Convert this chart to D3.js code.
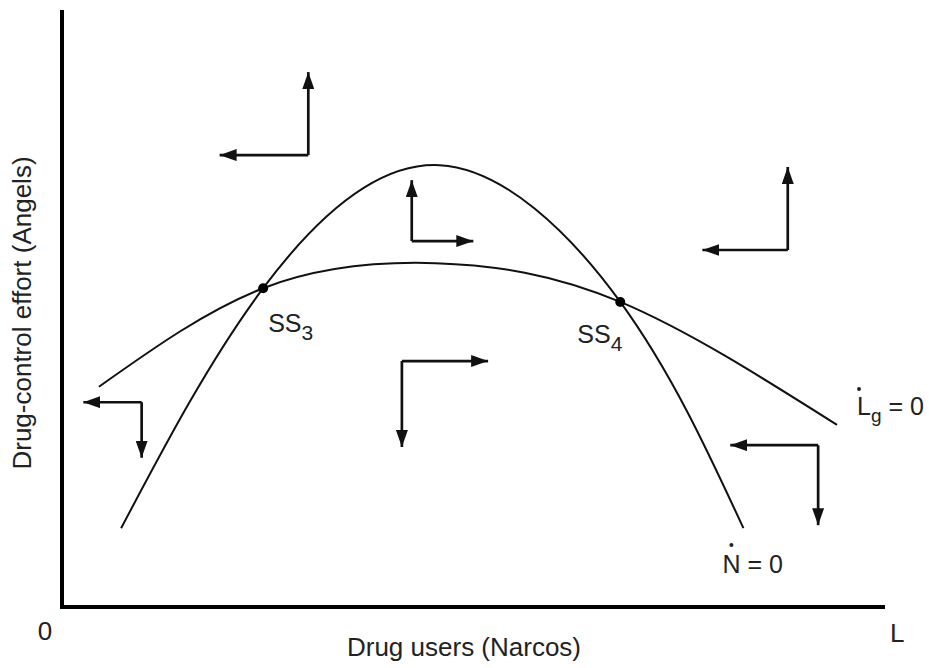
<!DOCTYPE html>
<html>
<head>
<meta charset="utf-8">
<script src="https://cdn.jsdelivr.net/npm/d3@7"></script>
<style>
  body { margin: 0; background: #fff; }
  text { font-family: 'Liberation Sans', Arial, sans-serif; fill: #222; }
</style>
</head>
<body>
<div id="chart"></div>
<script>
// values, in axis units (0..100 both ways)
var nDotCurve = [[7.2, 13.2], [24.5, 53.4], [46.0, 74.0], [68.0, 51.1], [83.0, 13.2]]
var lgDotCurve = [[4.5, 36.9], [24.5, 53.4], [45.5, 57.6], [68.0, 51.1], [94.4, 30.5]]
var steadyStates = [{name: 'SS', sub: '3', x: 24.5, y: 53.4}, {name: 'SS', sub: '4', x: 68.0, y: 51.1}]
// phase arrows: corner, tip of the horizontal arm, tip of the vertical arm
var arrowCorners = [[30.0, 75.7], [42.6, 61.3], [88.4, 59.8], [9.7, 34.3], [41.4, 41.2], [92.1, 27.1]]
var arrowHorizTips = [19.2, 50.1, 78.0, 2.6, 51.9, 81.4]
var arrowVertTips = [89.6, 71.5, 73.7, 25.0, 26.8, 13.7]
var axisTitles = ['Drug users (Narcos)', 'Drug-control effort (Angels)']
var axisEnds = ['0', 'L']

var width = 929,
	height = 668

var x = d3.scaleLinear().domain([0, 100]).range([62, 883]),
	y = d3.scaleLinear().domain([0, 100]).range([607, 10])

var svg = d3.select('#chart').append('svg')
	.attr('width', width)
	.attr('height', height)

var defs = svg.append('defs')
defs.append('marker')
	.attr('id', 'head')
	.attr('viewBox', '0 0 17 12')
	.attr('refX', 17)
	.attr('refY', 6)
	.attr('markerWidth', 17)
	.attr('markerHeight', 12)
	.attr('markerUnits', 'userSpaceOnUse')
	.attr('orient', 'auto')
	.append('path')
	.attr('d', 'M0,0 L17,6 L0,12 Z')
	.attr('fill', '#111')

// axes
svg.append('line')
	.attr('x1', x(0)).attr('y1', y(100))
	.attr('x2', x(0)).attr('y2', y(0) + 2)
	.attr('stroke', '#000').attr('stroke-width', 4)
svg.append('line')
	.attr('x1', x(0) - 2).attr('y1', y(0))
	.attr('x2', x(100) + 2).attr('y2', y(0))
	.attr('stroke', '#000').attr('stroke-width', 4)

svg.append('text')
	.attr('x', 464).attr('y', 656)
	.attr('text-anchor', 'middle')
	.style('font-size', '26px')
	.text(axisTitles[0])
svg.append('text')
	.attr('transform', 'translate(31,313) rotate(-90)')
	.attr('text-anchor', 'middle')
	.style('font-size', '26px')
	.text(axisTitles[1])
svg.append('text')
	.attr('x', x(0) - 17).attr('y', 640)
	.attr('text-anchor', 'middle')
	.style('font-size', '26px')
	.text(axisEnds[0])
svg.append('text')
	.attr('x', x(100) + 7).attr('y', 642)
	.style('font-size', '26px')
	.text(axisEnds[1])

// the two isoclines
var line = d3.line()
	.x(function(d) { return x(d[0]) })
	.y(function(d) { return y(d[1]) })
	.curve(d3.curveNatural)

svg.selectAll('path.curve')
	.data([nDotCurve, lgDotCurve])
	.enter().append('path')
	.attr('class', 'curve')
	.attr('d', line)
	.attr('fill', 'none')
	.attr('stroke', '#111')
	.attr('stroke-width', 2)

// steady states
svg.selectAll('circle.ss')
	.data(steadyStates)
	.enter().append('circle')
	.attr('class', 'ss')
	.attr('cx', function(d) { return x(d.x) })
	.attr('cy', function(d) { return y(d.y) })
	.attr('r', 5)
	.attr('fill', '#000')

var ssText = svg.selectAll('text.ss')
	.data(steadyStates)
	.enter().append('text')
	.attr('class', 'ss')
	.attr('x', function(d, i) { return x(d.x) + (i === 0 ? 5 : -43) })
	.attr('y', function(d, i) { return y(d.y) + (i === 0 ? 44 : 41) })
	.style('font-size', '25px')
ssText.append('tspan').text(function(d) { return d.name })
ssText.append('tspan')
	.attr('dy', 8)
	.style('font-size', '21px')
	.text(function(d) { return d.sub })

// phase arrows
arrowCorners.forEach(function(c, i) {
	svg.append('line')
		.attr('x1', x(c[0])).attr('y1', y(c[1]))
		.attr('x2', x(arrowHorizTips[i])).attr('y2', y(c[1]))
		.attr('stroke', '#111').attr('stroke-width', 2.7)
		.attr('marker-end', 'url(#head)')
	svg.append('line')
		.attr('x1', x(c[0])).attr('y1', y(c[1]))
		.attr('x2', x(c[0])).attr('y2', y(arrowVertTips[i]))
		.attr('stroke', '#111').attr('stroke-width', 2.7)
		.attr('marker-end', 'url(#head)')
})

// curve labels
var lgEnd = lgDotCurve[lgDotCurve.length - 1],
	nEnd = nDotCurve[nDotCurve.length - 1]

var lgLabel = svg.append('text')
	.attr('x', x(lgEnd[0]) + 20)
	.attr('y', 415)
	.style('font-size', '25px')
lgLabel.append('tspan').text('L')
lgLabel.append('tspan').attr('dy', 7).style('font-size', '19px').text('g')
lgLabel.append('tspan').attr('dy', -7).text(' = 0')
svg.append('circle')
	.attr('cx', x(lgEnd[0]) + 22).attr('cy', 389)
	.attr('r', 2).attr('fill', '#222')

svg.append('text')
	.attr('x', x(nEnd[0]) - 21)
	.attr('y', 573)
	.style('font-size', '25px')
	.text('N = 0')
svg.append('circle')
	.attr('cx', x(nEnd[0]) - 12).attr('cy', 545)
	.attr('r', 2).attr('fill', '#222')
</script>
</body>
</html>
